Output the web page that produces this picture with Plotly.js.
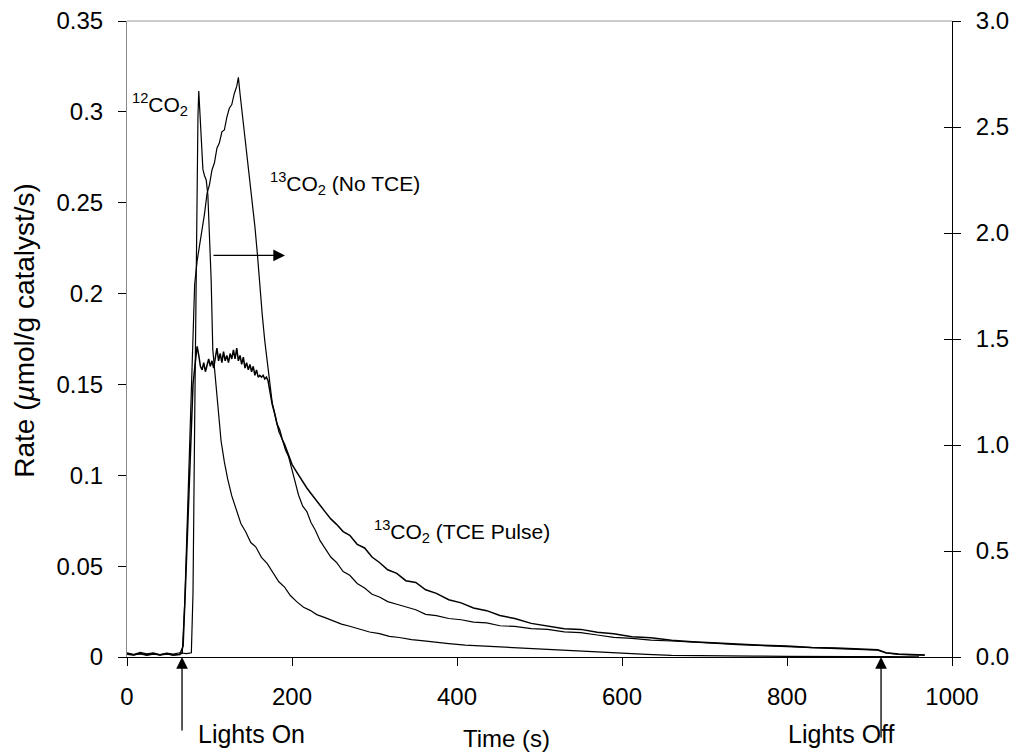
<!DOCTYPE html>
<html>
<head>
<meta charset="utf-8">
<script src="https://cdn.plot.ly/plotly-3.0.1.min.js"></script>
<style>html,body{margin:0;padding:0;background:#fff;}#chart{width:1012px;height:753px;}</style>
</head>
<body>
<div id="chart"></div>
<script>
// 12CO2 (right axis units)
const t12 = [0,8,16,24,32,40,48,56,64,72,
  78,80,82,84,86,87,88,90,92,94,
  96,98,100,102,104,107,110,114,118,122,
  127,132,138,144,150,156,163,170,177,184,
  191,198,206,214,222,230,240,250,260,270,
  282,294,306,318,330,345,360,375,390,410,
  430,450,470,495,520,545,570,600,630,660,
  690,720,760,800,840,880,920,960];
const co2_12 = [0.02,0.012,0.022,0.015,0.019,0.01,0.018,0.014,0.02,0.016,
  0.02,0.3,1.1,2.0,2.55,2.67,2.6,2.42,2.3,2.27,
  2.25,2.18,2.0,1.78,1.45,1.32,1.17,1.02,0.92,0.84,
  0.76,0.7,0.63,0.59,0.54,0.52,0.47,0.44,0.40,0.355,
  0.33,0.29,0.26,0.235,0.22,0.2,0.186,0.17,0.155,0.145,
  0.132,0.118,0.11,0.097,0.092,0.082,0.076,0.068,0.063,0.056,
  0.052,0.046,0.043,0.036,0.031,0.027,0.024,0.018,0.012,0.008,
  0.006,0.005,0.004,0.003,0.004,0.002,0.002,0.001];

// 13CO2 (No TCE) (left axis units)
const tNo = [0,8,16,24,32,40,48,56,64,67,
  70,73,76,79,82,85,88,91,94,97,
  100,103,106,109,112,115,118,121,124,127,
  130,133,135,137,140,143,146,149,152,155,
  158,161,164,167,170,173,176,180,184,188,
  192,196,200,204,208,213,218,223,228,234,
  240,247,254,262,270,279,288,297,306,316,
  327,338,350,362,375,390,405,420,436,452,
  470,490,510,530,550,570,590,612,635,660,
  685,710,740,770,800,830,860,890,910,920,
  935,950,967];
const co2_13NoTCE = [0.0015,0.001,0.002,0.0012,0.0018,0.001,0.0016,0.0011,0.0015,0.002,
  0.03,0.075,0.12,0.165,0.205,0.218,0.226,0.234,0.244,0.255,
  0.26,0.268,0.272,0.28,0.283,0.289,0.29,0.297,0.302,0.304,
  0.31,0.314,0.319,0.31,0.298,0.287,0.273,0.262,0.25,0.237,
  0.222,0.203,0.188,0.174,0.163,0.15,0.14,0.132,0.124,0.12,
  0.114,0.11,0.103,0.095,0.089,0.083,0.08,0.074,0.07,0.064,
  0.06,0.055,0.052,0.047,0.045,0.0405,0.038,0.0345,0.033,0.0305,
  0.029,0.0275,0.026,0.0235,0.0228,0.0212,0.0205,0.0192,0.0188,0.0172,
  0.0168,0.0156,0.0152,0.0138,0.0134,0.0121,0.0108,0.0102,0.0093,0.0088,
  0.008,0.0076,0.0068,0.0064,0.0056,0.0052,0.0046,0.0043,0.0038,0.0022,
  0.0014,0.0012,0.001];

// 13CO2 (TCE Pulse) (left axis units)
const tPulse = [0,8,16,24,32,40,48,56,64,
  68,71,74,77,80,83,85,87,89,91,
  93,95,97,99,101,103,105,107,109,111,
  113,115,117,119,121,123,125,127,129,131,
  133,135,137,139,141,143,145,147,149,151,
  153,155,157,159,161,163,165,167,169,171,
  173,176,179,182,185,188,191,194,197,200,
  204,208,213,218,223,228,234,240,247,254,
  262,270,279,288,297,306,316,327,338,350,
  362,375,390,405,420,436,452,470,490,510,
  530,550,570,590,612,635,660,685,710,740,
  770,800,830,860,890,910,920,935,950,967];
const co2_13Pulse = [0.002,0.0012,0.0018,0.001,0.0016,0.0012,0.0019,0.001,0.0014,
  0.006,0.04,0.08,0.12,0.15,0.163,0.171,0.166,0.16,0.158,
  0.162,0.157,0.16,0.164,0.16,0.163,0.159,0.166,0.17,0.163,
  0.167,0.162,0.168,0.163,0.166,0.162,0.167,0.164,0.169,0.164,
  0.17,0.163,0.166,0.161,0.165,0.159,0.162,0.158,0.161,0.157,
  0.16,0.155,0.158,0.154,0.155,0.154,0.155,0.153,0.154,0.152,
  0.147,0.139,0.134,0.128,0.125,0.12,0.117,0.113,0.11,0.106,
  0.103,0.1,0.097,0.093,0.09,0.087,0.083,0.08,0.076,0.073,
  0.069,0.067,0.062,0.06,0.055,0.052,0.048,0.046,0.042,0.041,
  0.037,0.035,0.0315,0.0298,0.027,0.0255,0.0228,0.0212,0.0185,0.0172,
  0.0155,0.0152,0.0136,0.0128,0.0112,0.0106,0.0092,0.0084,0.0078,0.0074,
  0.0065,0.0061,0.0052,0.005,0.0044,0.004,0.0024,0.0016,0.0014,0.0011];

const xTicks = [0,200,400,600,800,1000];
const yLeftTicks = [0,0.05,0.1,0.15,0.2,0.25,0.3,0.35];
const yRightTicks = [0,0.5,1.0,1.5,2.0,2.5,3.0];

const FONT = '"Liberation Sans", Arial, sans-serif';
const lineStyle = {color:'#000', width:1.2};

const traces = [
  {x:tPulse, y:co2_13Pulse, type:'scatter', mode:'lines', line:{color:'#000', width:1.5}, name:'13CO2 (TCE Pulse)', yaxis:'y'},
  {x:tNo, y:co2_13NoTCE, type:'scatter', mode:'lines', line:lineStyle, name:'13CO2 (No TCE)', yaxis:'y'},
  {x:t12, y:co2_12, type:'scatter', mode:'lines', line:lineStyle, name:'12CO2', yaxis:'y2'},
  // empty trace so the inner right-hand tick set (y3) is drawn
  {x:[], y:[], type:'scatter', mode:'lines', yaxis:'y3', hoverinfo:'skip', name:''}
];

const arrowStyle = {arrowhead:2, arrowsize:1.8, arrowwidth:1.3, arrowcolor:'#000', standoff:0, startstandoff:0};

const layout = {
  width:1012, height:753,
  margin:{l:127, r:60, t:21, b:96},
  paper_bgcolor:'#fff', plot_bgcolor:'#fff',
  showlegend:false,
  font:{family:FONT, color:'#000', size:24},
  xaxis:{range:[0,1000], tickvals:xTicks, ticktext:xTicks.map(String), ticks:'outside', ticklen:8, tickwidth:1, tickcolor:'#000',
    showline:true, linecolor:'#000', linewidth:1, showgrid:false, zeroline:false,
    tickfont:{size:24}, ticklabelstandoff:10},
  yaxis:{range:[0,0.35], tickvals:yLeftTicks, ticktext:yLeftTicks.map(String), ticks:'outside', ticklen:8, tickwidth:1, tickcolor:'#000',
    showline:true, linecolor:'#888', linewidth:1, showgrid:false, zeroline:false,
    tickfont:{size:24}, ticklabelstandoff:10},
  yaxis2:{range:[0,3], overlaying:'y', side:'right', tickvals:yRightTicks, ticktext:yRightTicks.map(v=>v.toFixed(1)),
    ticks:'outside', ticklen:8, tickwidth:1, tickcolor:'#000',
    showline:true, linecolor:'#000', linewidth:1, showgrid:false, zeroline:false,
    tickfont:{size:24}, ticklabelstandoff:10},
  yaxis3:{range:[0,3], overlaying:'y', side:'right', tickvals:yRightTicks, ticks:'inside', ticklen:8, tickwidth:1, tickcolor:'#000',
    showticklabels:false, showline:false, showgrid:false, zeroline:false},
  shapes:[
    {type:'line', xref:'paper', yref:'paper', x0:0, x1:1, y0:1, y1:1, line:{color:'#999', width:1}}
  ],
  annotations:[
    {xref:'paper', yref:'paper', x:-0.1236, y:0.513, text:'Rate (<i>µ</i>mol/g catalyst/s)', textangle:-90,
      showarrow:false, xanchor:'center', yanchor:'middle', font:{size:28}},
    {xref:'paper', yref:'paper', x:0.4606, y:-0.1274, text:'Time (s)', showarrow:false, xanchor:'center', yanchor:'middle', font:{size:24}},
    {xref:'paper', yref:'paper', x:0.1515, y:-0.121, text:'Lights On', showarrow:false, xanchor:'center', yanchor:'middle', font:{size:25}},
    {xref:'paper', yref:'paper', x:0.8655, y:-0.121, text:'Lights Off', showarrow:false, xanchor:'center', yanchor:'middle', font:{size:25}},
    Object.assign({xref:'x', yref:'y', x:66.7, y:0, text:'', showarrow:true, ax:0, ay:75}, arrowStyle),
    Object.assign({xref:'x', yref:'y', x:914, y:0, text:'', showarrow:true, ax:0, ay:82}, arrowStyle),
    Object.assign({xref:'x', yref:'y', x:191.5, y:0.221, text:'', showarrow:true, ax:-73, ay:0}, arrowStyle),
    {xref:'x', yref:'y', x:3.6, y:0.304, text:'<sup>12</sup>CO<sub>2</sub>', showarrow:false, xanchor:'left', yanchor:'middle', font:{size:21}},
    {xref:'x', yref:'y', x:171, y:0.2608, text:'<sup>13</sup>CO<sub>2</sub> (No TCE)', showarrow:false, xanchor:'left', yanchor:'middle', font:{size:21}},
    {xref:'x', yref:'y', x:297, y:0.0688, text:'<sup>13</sup>CO<sub>2</sub> (TCE Pulse)', showarrow:false, xanchor:'left', yanchor:'middle', font:{size:21}}
  ]
};

Plotly.newPlot('chart', traces, layout, {displayModeBar:false, staticPlot:true});
</script>
</body>
</html>
